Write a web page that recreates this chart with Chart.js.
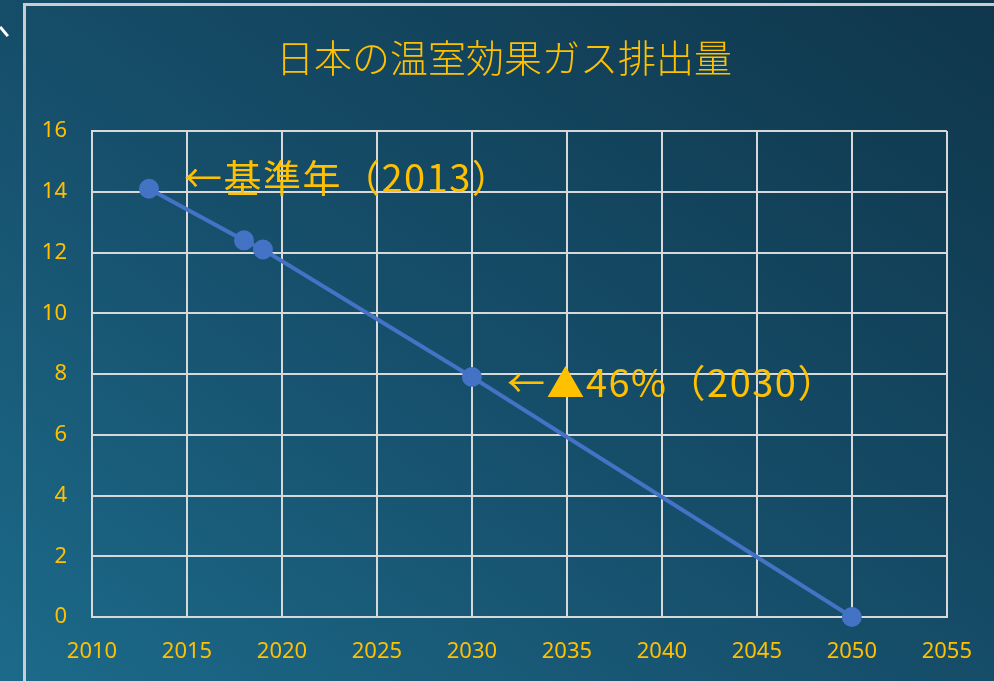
<!DOCTYPE html>
<html lang="ja">
<head>
<meta charset="utf-8">
<title>日本の温室効果ガス排出量</title>
<script src="https://cdn.jsdelivr.net/npm/chart.js@4.4.1/dist/chart.umd.min.js"></script>
<style>
  html, body { margin: 0; padding: 0; }
  body {
    width: 994px; height: 681px; overflow: hidden; position: relative;
    background: linear-gradient(35deg, #1c6a8a 0%, #164f6b 45%, #0f364b 100%);
  }
  #frame {
    position: absolute; left: 23px; top: 3px; width: 1100px; height: 800px;
    border: 3px solid #c9ccd0; box-sizing: border-box;
  }
  #tick {
    position: absolute; left: -2px; top: 30px; width: 12px; height: 3px;
    background: #fff; transform: rotate(50deg);
  }
  #wrap { position: absolute; left: 0; top: 0; width: 994px; height: 681px; }
</style>
</head>
<body>
<div id="frame"></div>
<div id="tick"></div>
<div id="wrap"><canvas id="ghgChart" width="994" height="681"></canvas></div>
<script>
// 排出量（億トン CO2換算）
const years = [2013, 2018, 2019, 2030, 2050];
const emissions = [14.1, 12.4, 12.1, 7.9, 0];
const xTicks = [2010, 2015, 2020, 2025, 2030, 2035, 2040, 2045, 2050, 2055];
const yTicks = [0, 2, 4, 6, 8, 10, 12, 14, 16];
const chartTitle = '日本の温室効果ガス排出量';
const noteTexts = ['←基準年（2013）', '←▲46%（2030）'];
const notePoints = [0, 3];

const gold = '#ffc000';
const gridColor = '#d6d8da';
const tickFont = { family: '"Noto Sans", "Open Sans", sans-serif', size: 22 };

// タイトルと注記をキャンバスに描く
const textPlugin = {
    id: 'ghgText',
    afterDatasetsDraw(chart) {
        const ctx = chart.ctx;
        ctx.save();
        ctx.fillStyle = gold;
        ctx.textBaseline = 'middle';

        ctx.font = '300 38px "Noto Sans CJK JP", sans-serif';
        ctx.textAlign = 'center';
        ctx.fillText(chartTitle, 504, 58);

        const meta = chart.getDatasetMeta(0);
        const offsets = [[35, -11], [35, 6]];
        ctx.font = '38px "Noto Sans CJK JP", sans-serif';
        ctx.letterSpacing = '1.5px';
        ctx.textAlign = 'left';
        noteTexts.forEach((t, i) => {
            const pt = meta.data[notePoints[i]];
            ctx.fillText(t, pt.x + offsets[i][0], pt.y + offsets[i][1]);
        });
        ctx.restore();
    }
};

const ctx = document.getElementById('ghgChart').getContext('2d');
const ghgChart = new Chart(ctx, {
    type: 'scatter',
    data: {
        datasets: [{
            label: '排出量',
            data: years.map((y, i) => ({ x: y, y: emissions[i] })),
            showLine: true,
            clip: false,
            borderColor: '#4472c4',
            backgroundColor: '#4472c4',
            borderWidth: 4,
            pointRadius: 8,
            pointHoverRadius: 8
        }]
    },
    options: {
        responsive: false,
        animation: false,
        layout: { padding: { top: 131, right: 46, left: 0, bottom: 0 } },
        plugins: {
            legend: { display: false },
            title: { display: false },
            tooltip: { enabled: false }
        },
        scales: {
            x: {
                type: 'linear',
                min: 2010, max: 2055,
                afterBuildTicks: axis => { axis.ticks = xTicks.map(v => ({ value: v })); },
                afterFit: axis => { axis.height = 64; },
                ticks: { color: gold, font: tickFont, padding: 22, maxRotation: 0, callback: v => String(v) },
                grid: { color: gridColor, lineWidth: 2, drawTicks: false },
                border: { color: gridColor, width: 2 }
            },
            y: {
                min: 0, max: 16,
                afterBuildTicks: axis => { axis.ticks = yTicks.map(v => ({ value: v })); },
                afterFit: axis => { axis.width = 92; },
                ticks: { color: gold, font: tickFont, padding: 25 },
                grid: { color: gridColor, lineWidth: 2, drawTicks: false },
                border: { color: gridColor, width: 2 }
            }
        }
    },
    plugins: [textPlugin]
});
</script>
</body>
</html>
